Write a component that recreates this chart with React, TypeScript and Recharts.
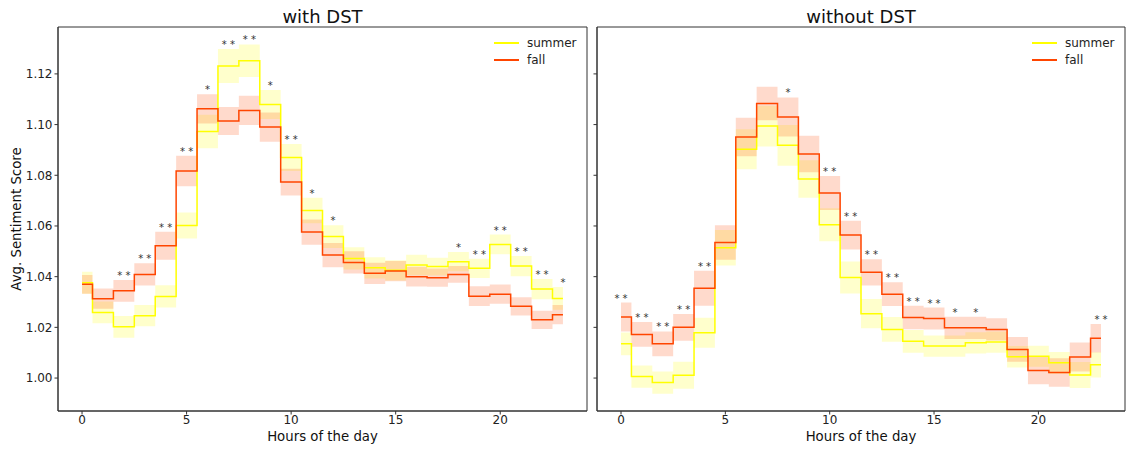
import {
  ComposedChart,
  Line,
  Area,
  XAxis,
  YAxis,
  ReferenceArea,
  LabelList,
} from "recharts";

const hours = [
  0, 1, 2, 3, 4, 5, 6, 7, 8, 9, 10, 11, 12, 13, 14, 15, 16, 17, 18, 19, 20, 21, 22, 23,
];

// with DST
const dstSummer = [
  1.0376, 1.0259, 1.0202, 1.0246, 1.0322, 1.0602, 1.0973, 1.1231, 1.1252, 1.1079, 1.087, 1.0661,
  1.0558, 1.0472, 1.0435, 1.0425, 1.0446, 1.044, 1.0459, 1.0433, 1.0527, 1.0442, 1.0351, 1.0314,
];
const dstSummerCi = [
  0.0043, 0.0043, 0.0043, 0.0042, 0.0044, 0.0051, 0.0066, 0.0067, 0.0064, 0.0057, 0.0053, 0.005,
  0.0045, 0.0044, 0.0042, 0.004, 0.004, 0.0035, 0.0038, 0.0038, 0.0039, 0.004, 0.004, 0.0045,
];
const dstFall = [
  1.037, 1.0313, 1.0344, 1.0409, 1.0522, 1.0817, 1.1062, 1.1014, 1.1056, 1.099, 1.0773, 1.0576,
  1.0485, 1.0456, 1.0413, 1.0422, 1.04, 1.0396, 1.0409, 1.0323, 1.0331, 1.0283, 1.023, 1.025,
];
const dstFallCi = [
  0.0037, 0.004, 0.0043, 0.0044, 0.0055, 0.006, 0.0058, 0.0055, 0.0058, 0.0058, 0.0053, 0.005,
  0.0048, 0.0044, 0.0042, 0.004, 0.0039, 0.0036, 0.0033, 0.0039, 0.0038, 0.0036, 0.0036, 0.0038,
];
const dstStars = [
  "", "", "**", "**", "**", "**", "*", "**", "**", "*", "**", "*",
  "*", "", "", "", "", "", "*", "**", "**", "**", "**", "*",
];

// without DST
const noDstSummer = [
  1.0135, 1.0006, 0.9982, 1.0011, 1.0179, 1.0514, 1.0903, 1.0994, 1.0918, 1.0785, 1.0605, 1.0397,
  1.0254, 1.0192, 1.0145, 1.0126, 1.0126, 1.0139, 1.0142, 1.0084, 1.0086, 1.006, 1.0012, 1.0052,
];
const noDstSummerCi = [
  0.0045, 0.0044, 0.0044, 0.0053, 0.0059, 0.007, 0.0079, 0.008, 0.008, 0.0074, 0.0065, 0.0063,
  0.0058, 0.0049, 0.0045, 0.0042, 0.0042, 0.0042, 0.0042, 0.0042, 0.0041, 0.0043, 0.0051, 0.005,
];
const noDstFall = [
  1.0241, 1.0172, 1.0135, 1.02, 1.0354, 1.0535, 1.0951, 1.1083, 1.103, 1.0884, 1.073, 1.0564,
  1.0417, 1.0331, 1.0239, 1.0235, 1.0198, 1.0198, 1.0192, 1.0113, 1.003, 1.0022, 1.0083, 1.0157,
];
const noDstFallCi = [
  0.0057, 0.0049, 0.0049, 0.0053, 0.0069, 0.0068, 0.0076, 0.0066, 0.0077, 0.0072, 0.0067, 0.0057,
  0.0052, 0.0047, 0.0046, 0.0043, 0.0044, 0.0044, 0.0044, 0.0049, 0.0054, 0.0056, 0.0057, 0.0056,
];
const noDstStars = [
  "**", "**", "**", "**", "**", "", "", "", "*", "", "**", "**",
  "**", "**", "**", "**", "*", "*", "", "", "", "", "", "**",
];

const xTicks = [0, 5, 10, 15, 20];
const yTicks = [1.0, 1.02, 1.04, 1.06, 1.08, 1.1, 1.12];

const X_DOMAIN: [number, number] = [-1.15, 24.15];
const Y_DOMAIN: [number, number] = [0.987, 1.1385];
const SUMMER = "#ffff00";
const FALL = "#ff4500";
const FONT = "DejaVu Sans";

type Row = {
  hour: number;
  summer: number;
  fall: number;
  summerBand: [number, number];
  fallBand: [number, number];
  starY: number;
  stars: string;
};

const buildRows = (
  summer: number[],
  summerCi: number[],
  fall: number[],
  fallCi: number[],
  stars: string[]
): Row[] =>
  hours.map((h, i) => ({
    hour: h,
    summer: summer[i],
    fall: fall[i],
    summerBand: [summer[i] - summerCi[i], summer[i] + summerCi[i]],
    fallBand: [fall[i] - fallCi[i], fall[i] + fallCi[i]],
    starY: Math.max(summer[i] + summerCi[i], fall[i] + fallCi[i]),
    stars: stars[i],
  }));

const dstRows = buildRows(dstSummer, dstSummerCi, dstFall, dstFallCi, dstStars);
const noDstRows = buildRows(noDstSummer, noDstSummerCi, noDstFall, noDstFallCi, noDstStars);

const StarLabel = (props: any) => {
  const { x, y, value } = props;
  if (!value) return null;
  return (
    <text x={x} y={y - 1} textAnchor="middle" fontSize={10} fill="#333" fontFamily={FONT}>
      {value === "**" ? "* *" : "*"}
    </text>
  );
};

type PanelProps = {
  rows: Row[];
  title: string;
  left: number;
  width: number;
  axisWidth: number;
  showYLabels: boolean;
};

const Panel = ({ rows, title, left, width, axisWidth, showYLabels }: PanelProps) => {
  const plotLeft = axisWidth;
  const plotRight = width - 1;
  const legendX = plotRight - 93;
  return (
    <div style={{ position: "absolute", left, top: 0, width, height: 450 }}>
      <ComposedChart
        width={width}
        height={450}
        data={rows}
        margin={{ top: 27, right: 1, left: 0, bottom: 0 }}
      >
        <XAxis
          dataKey="hour"
          type="number"
          domain={X_DOMAIN}
          ticks={xTicks}
          allowDataOverflow
          height={39}
          tickSize={3.5}
          tickMargin={1}
          stroke="#333"
          tick={{ fontSize: 12, fill: "#222", fontFamily: FONT }}
        />
        <YAxis
          type="number"
          domain={Y_DOMAIN}
          ticks={yTicks}
          allowDataOverflow
          width={axisWidth}
          tickSize={3.5}
          tickMargin={2}
          stroke="#333"
          tick={{ fontSize: 12, fill: "#222", fontFamily: FONT }}
          tickFormatter={(v: number) => (showYLabels ? v.toFixed(2) : "")}
        />
        <Area
          dataKey="summerBand"
          type="step"
          fill={SUMMER}
          fillOpacity={0.2}
          stroke="none"
          isAnimationActive={false}
        />
        <Area
          dataKey="fallBand"
          type="step"
          fill={FALL}
          fillOpacity={0.2}
          stroke="none"
          isAnimationActive={false}
        />
        <Line
          dataKey="summer"
          type="step"
          stroke={SUMMER}
          strokeWidth={1.5}
          dot={false}
          activeDot={false}
          isAnimationActive={false}
        />
        <Line
          dataKey="fall"
          type="step"
          stroke={FALL}
          strokeWidth={1.5}
          dot={false}
          activeDot={false}
          isAnimationActive={false}
        />
        <Line
          dataKey="starY"
          stroke="none"
          dot={false}
          activeDot={false}
          isAnimationActive={false}
        >
          <LabelList dataKey="stars" content={StarLabel} />
        </Line>
        <ReferenceArea
          x1={X_DOMAIN[0]}
          x2={X_DOMAIN[1]}
          y1={Y_DOMAIN[0]}
          y2={Y_DOMAIN[1]}
          fill="none"
          stroke="#333"
          strokeWidth={1}
        />
      </ComposedChart>

      <div
        style={{
          position: "absolute",
          left: plotLeft,
          width: plotRight - plotLeft,
          top: 6,
          textAlign: "center",
          fontSize: 18,
          lineHeight: "22px",
          color: "#111",
        }}
      >
        {title}
      </div>
      <div
        style={{
          position: "absolute",
          left: plotLeft,
          width: plotRight - plotLeft,
          top: 429,
          textAlign: "center",
          fontSize: 13.3,
          lineHeight: "16px",
          color: "#111",
        }}
      >
        Hours of the day
      </div>

      {[
        { name: "summer", color: SUMMER, y: 43 },
        { name: "fall", color: FALL, y: 60 },
      ].map((s) => (
        <div key={s.name}>
          <div
            style={{
              position: "absolute",
              left: legendX,
              top: s.y - 0.75,
              width: 25,
              height: 1.5,
              background: s.color,
            }}
          />
          <div
            style={{
              position: "absolute",
              left: legendX + 33,
              top: s.y - 8,
              fontSize: 12,
              lineHeight: "16px",
              color: "#222",
            }}
          >
            {s.name}
          </div>
        </div>
      ))}
    </div>
  );
};

export default function App() {
  return (
    <div
      style={{
        position: "absolute",
        left: 0,
        top: 0,
        width: 1126,
        height: 450,
        background: "#fff",
        fontFamily: FONT,
      }}
    >
      <div
        style={{
          position: "absolute",
          left: 16,
          top: 219,
          transform: "translate(-50%, -50%) rotate(-90deg)",
          whiteSpace: "nowrap",
          fontSize: 13.3,
          color: "#111",
        }}
      >
        Avg. Sentiment Score
      </div>
      <Panel rows={dstRows} title="with DST" left={0} width={588} axisWidth={58} showYLabels />
      <Panel rows={noDstRows} title="without DST" left={590} width={536} axisWidth={7} showYLabels={false} />
    </div>
  );
}
